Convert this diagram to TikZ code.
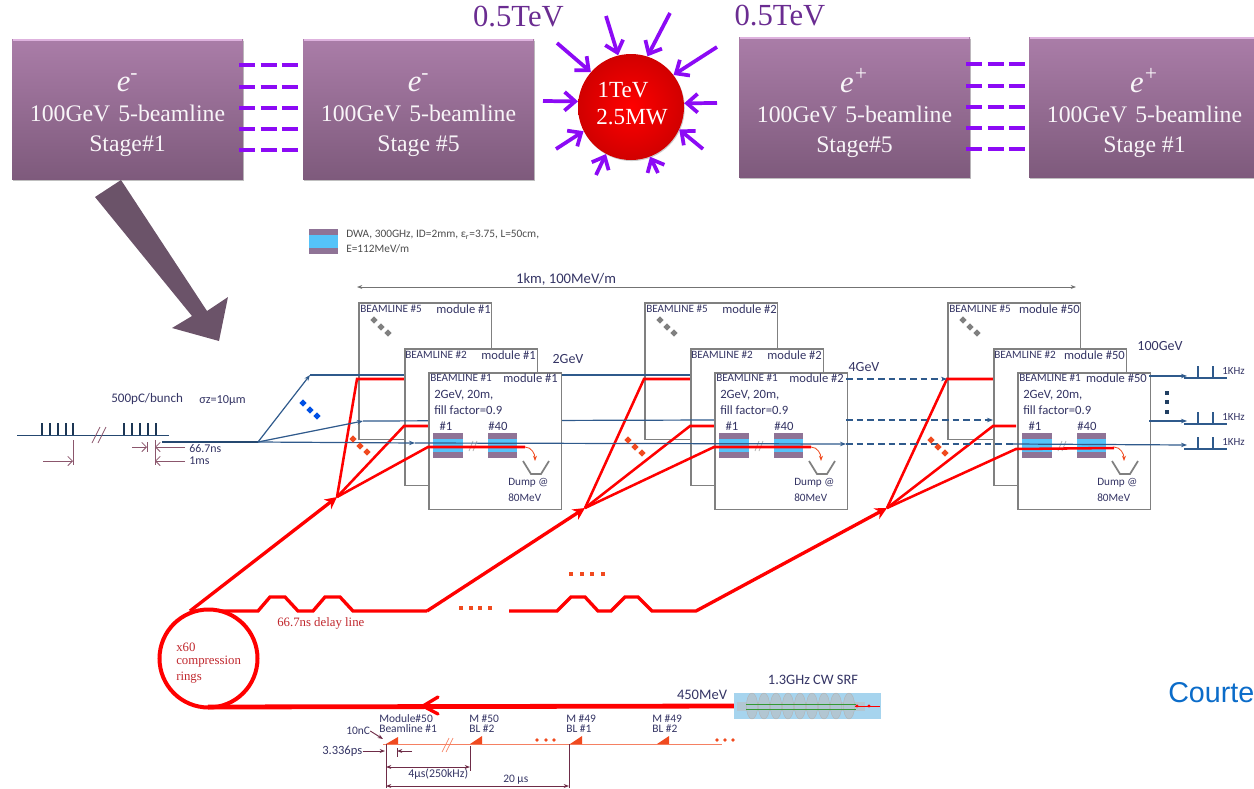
\documentclass[tikz,border=0pt]{standalone}
\usepackage{fontspec}
\setmainfont{Liberation Serif}
\newfontfamily\calfont{Carlito}
\newfontfamily\arialfont{Liberation Sans}
\usetikzlibrary{arrows.meta,calc,shapes.geometric,shadows}
\definecolor{plumtop}{RGB}{170,125,168}
\definecolor{plumlow}{RGB}{126,90,124}
\definecolor{plumrim}{RGB}{222,178,222}
\definecolor{violet}{RGB}{140,10,245}
\definecolor{tevtext}{RGB}{106,44,145}
\definecolor{bigarrow}{RGB}{107,83,105}
\definecolor{dwaplum}{RGB}{143,115,150}
\definecolor{dwacyan}{RGB}{85,195,249}
\definecolor{boxgray}{RGB}{128,128,128}
\definecolor{navy}{RGB}{47,90,140}
\definecolor{labelink}{RGB}{52,52,100}
\definecolor{markred}{RGB}{240,74,31}
\definecolor{ringtext}{RGB}{192,39,45}
\definecolor{timing}{RGB}{110,44,71}
\definecolor{srfblue}{RGB}{166,212,238}
\definecolor{cavity}{RGB}{178,198,210}
\definecolor{courtesy}{RGB}{11,108,201}

% top row
\newcommand{\stagebox}[5]{%
  \node[stagebx] (#1) at (#2,#3) {};
  \node[stagetxt] (#1t) at ($(#1.center)+(0,6)$) {{\fontsize{23}{24}\selectfont\itshape e\textsuperscript{#4}}\\100GeV\,\,5-beamline\\#5};
  \draw[plumrim,line width=1.5pt] ($(#1.north west)+(1,1)$) -- ($(#1.north east)+(-1,1)$);
}
\newcommand{\fivelinks}[3]{%
  \draw[linkdash] ($(#1.north east)+(-4,#3+0)$) -- ($(#2.north west)+(0,#3+0)$);
  \draw[linkdash] ($(#1.north east)+(-4,#3+22)$) -- ($(#2.north west)+(0,#3+22)$);
  \draw[linkdash] ($(#1.north east)+(-4,#3+43)$) -- ($(#2.north west)+(0,#3+43)$);
  \draw[linkdash] ($(#1.north east)+(-4,#3+64)$) -- ($(#2.north west)+(0,#3+64)$);
  \draw[linkdash] ($(#1.north east)+(-4,#3+85)$) -- ($(#2.north west)+(0,#3+85)$);
}
% module stack, one layer at a time
\newcommand{\threemarks}[4]{%
  \node[markdot,fill=#4] (#1a) at (#2,#3) {};
  \node[markdot,fill=#4] (#1b) at (#2+7,#3+7) {};
  \node[markdot,fill=#4] (#1c) at (#2+14,#3+13) {};
}
\newcommand{\backmod}[3]{%
  \node[modbox] (#1) at (358+#2,302) {};
  \node[beamlbl,anchor=west] (#1l) at (360+#2,309) {BEAMLINE \#5};
  \node[modlbl,anchor=east] (#1m) at (491+#2,309) {module \##3};
  \threemarks{#1k}{374+#2}{320}{gray}
}
\newcommand{\midmod}[3]{%
  \node[modbox] (#1) at (404+#2,348) {};
  \node[beamlbl,anchor=west] (#1l) at (405+#2,355) {BEAMLINE \#2};
  \node[modlbl,anchor=east] (#1m) at (536+#2,355) {module \##3};
}
\newcommand{\dwablock}[3]{%
  \node[dwa] (#1) at (#2,#3) {};
  \node[dwacore] (#1c) at (#1.center) {};
}
\newcommand{\frontmod}[3]{%
  \node[modbox] (#1) at (428+#2,372) {};
  \node[beamlbl,anchor=west] (#1l) at (430+#2,378) {BEAMLINE \#1};
  \node[modlbl,anchor=east] (#1m) at (558+#2,378) {module \##3};
  \node[inlbl,anchor=west] (#1f) at (434+#2,395) {2GeV, 20m,};
  \node[inlbl,anchor=west] (#1g) at (434+#2,410) {fill factor=0.9};
  \node[inlbl] (#1h) at (446+#2,426) {\#1};
  \node[inlbl] (#1i) at (498+#2,426) {\#40};
  \dwablock{#1p}{448+#2}{445.5}
  \dwablock{#1q}{502.5+#2}{445.5}
  \draw[gray!60,line width=.6pt] (469+#2,451) -- (473+#2,441) (473+#2,451) -- (477+#2,441);
}
\newcommand{\dumpmod}[2]{%
  \coordinate (#1s) at (525+#2,447);
  \coordinate (#1t) at (535+#2,461);
  \draw[boxgray,line width=1.3pt] (523+#2,461) -- (531+#2,474) -- (541+#2,474) -- (549+#2,461);
  \draw[markred,line width=.6pt,-{Stealth[length=4pt]}] (#1s) to[out=0,in=90] (#1t);
  \node[inlbl,font=\calfont\fontsize{8.4}{9}\selectfont,anchor=west] (#1u) at (508+#2,483) {Dump @};
  \node[inlbl,font=\calfont\fontsize{8.4}{9}\selectfont,anchor=west] (#1v) at (508+#2,498) {80MeV};
}
\newcommand{\pulse}[3]{%
  \coordinate (#1a) at (1184,#2);
  \coordinate (#1b) at (1227,#2);
  \draw[navy,line width=.8pt] (#1a) -- (#1b) (1198,#2) -- (1198,#2-12) (1213,#2) -- (1213,#2-12);
  \node[inlbl,font=\calfont\fontsize{8.2}{9}\selectfont,anchor=west] (#1c) at (1222,#3) {1KHz};
}
\newcommand{\ramp}[3]{%
  \fill[markred] (#2,744) -- (#2+12,#3) -- (#2+12,744) -- cycle;
}

\begin{document}
\begin{tikzpicture}[x=0.75pt,y=-0.75pt,
  stagebx/.style={top color=plumtop,bottom color=plumlow,minimum width=173.25pt,minimum height=105pt,
    inner sep=0pt,drop shadow={shadow xshift=1pt,shadow yshift=-1.5pt,opacity=.5}},
  stagetxt/.style={inner sep=0pt,align=center,text=white!92!plumtop,font=\fontsize{17.8}{22.5}\selectfont},
  linkdash/.style={violet,line width=2.7pt,dash pattern=on 12pt off 4pt},
  hitarrow/.style={violet,line width=2.8pt,-{Straight Barb[length=8pt,width=14pt,line width=2.8pt]}},
  tevlbl/.style={text=tevtext,font=\fontsize{23}{24}\selectfont,inner sep=0pt},
  corelbl/.style={text=white,font=\fontsize{17.3}{20}\selectfont,inner sep=0pt},
  modbox/.style={draw=boxgray,fill=white,line width=1.3pt,minimum width=99.5pt,minimum height=102.5pt,
    inner sep=0pt,anchor=north west},
  beamlbl/.style={text=labelink,font=\calfont\fontsize{8.4}{9}\selectfont,inner sep=0pt},
  modlbl/.style={text=labelink,font=\calfont\fontsize{9.4}{10}\selectfont,inner sep=0pt},
  inlbl/.style={text=labelink,font=\calfont\fontsize{9.5}{10}\selectfont,inner sep=0pt},
  energy/.style={text=labelink,font=\calfont\fontsize{10.5}{11}\selectfont,inner sep=0pt},
  timelbl/.style={text=labelink,font=\calfont\fontsize{8.6}{9}\selectfont,inner sep=0pt},
  redlbl/.style={text=ringtext,font=\fontsize{9.6}{10}\selectfont,inner sep=0pt,anchor=west},
  dwa/.style={fill=dwaplum,minimum width=22pt,minimum height=18.8pt,inner sep=0pt},
  dwacore/.style={fill=dwacyan,minimum width=22pt,minimum height=9.5pt,inner sep=0pt},
  markdot/.style={diamond,minimum size=5.5pt,inner sep=0pt},
  squaredot/.style={fill=#1,minimum size=3.4pt,inner sep=0pt},
  blueline/.style={navy,line width=.9pt},
  bluearrow/.style={navy,line width=.9pt,-{Stealth[length=4.5pt]}},
  bluedash/.style={navy,line width=.9pt,dash pattern=on 5pt off 3pt},
  redbeam/.style={red,line width=1.9pt,line join=miter},
  redfeed/.style={red,line width=2.5pt,line join=miter},
  timeline/.style={timing,line width=.7pt},
  timearrow/.style={timing,line width=.7pt,-{Stealth[length=4pt]}},
  inputarrow/.style={timing!80,line width=.6pt,-{Straight Barb[length=3.5pt]}}]
\useasboundingbox (0,0) rectangle (1254,789);

% stages and collision point
\stagebox{st1}{127.5}{109}{-}{Stage\#1}
\stagebox{st2}{418.5}{109}{-}{Stage \#5}
\stagebox{st3}{854.5}{107}{+}{Stage\#5}
\stagebox{st4}{1144.5}{107}{+}{Stage \#1}
\fivelinks{st1}{st2}{26}
\fivelinks{st3}{st4}{27}
\node[tevlbl] (tevl) at (518.5,17) {0.5TeV};
\node[tevlbl] (tevr) at (780,16) {0.5TeV};
\node[circle,minimum size=79.5pt,inner sep=0pt,inner color=red,outer color=red!82!black,
  drop shadow={shadow xshift=.6pt,shadow yshift=-.8pt,opacity=.4}] (core) at (631,107) {};
\node[corelbl] (coretop) at (623,90) {1TeV};
\node[corelbl] (corelow) at (632,117) {2.5MW};
\draw[hitarrow] (557,43) coordinate (h1) -- (core.139);
\draw[hitarrow] (606,16) coordinate (h2) -- (core.104);
\draw[hitarrow] (670,13) coordinate (h3) -- (core.72);
\draw[hitarrow] (717,47) coordinate (h4) -- (core.37);
\draw[hitarrow] (717,103) coordinate (h5) -- (core.4);
\draw[hitarrow] (703,149) coordinate (h6) -- (core.-25);
\draw[hitarrow] (658,173) coordinate (h7) -- (core.-69);
\draw[hitarrow] (596,175) coordinate (h8) -- (core.242);
\draw[hitarrow] (556,149) coordinate (h9) -- (core.207);
\draw[hitarrow] (543,101) coordinate (h10) -- (core.174);
\fill[bigarrow] (121,180) -- (207,311) -- (228,297) -- (219,341) -- (172,328) -- (192,316) -- (95,197) -- cycle;

% legend and overall length
\dwablock{legend}{323.5}{241.5}
\node[inlbl,font=\calfont\fontsize{8.5}{9}\selectfont,text=black!70,anchor=west] (legendtop) at (346,235) {DWA, 300GHz, ID=2mm, ε\textsubscript{r}=3.75, L=50cm,};
\node[inlbl,font=\calfont\fontsize{8.5}{9}\selectfont,text=black!70,anchor=west] (legendlow) at (346,249) {E=112MeV/m};
\coordinate (lenl) at (357,287);
\coordinate (lenr) at (1076,287);
\draw[black!55,line width=.6pt,{Stealth[length=4pt]}-{Stealth[length=4pt]}] (lenl) -- (lenr);
\node[energy,font=\calfont\fontsize{11}{12}\selectfont] (lenlbl) at (566,279) {1km, 100MeV/m};

% incoming bunch train
\coordinate (trainl) at (17,435);
\coordinate (trainr) at (169,435);
\draw[navy!80!black,line width=.6pt] (trainl) -- (trainr);
\draw[navy!60!black,line width=1pt] (42,423) -- (42,435) (50,423) -- (50,435) (58,423) -- (58,435) (66,423) -- (66,435) (73,423) -- (73,435)
  (124,423) -- (124,435) (132,423) -- (132,435) (140,423) -- (140,435) (148,423) -- (148,435) (156,423) -- (156,435);
\draw[timing!80,line width=.6pt] (92,443) -- (100,427) (98,443) -- (106,427);
\draw[timing!80,line width=.6pt] (73,440) -- (73,465) (147,442) -- (147,452) (155,440) -- (155,465);
\draw[inputarrow] (43,461) coordinate (tr1) -- (73,461);
\draw[inputarrow] (132,447) coordinate (tr2) -- (147,447);
\draw[inputarrow] (185,447) coordinate (tr3) -- (155,447);
\draw[inputarrow] (185,461) coordinate (tr4) -- (155,461);
\node[timelbl,anchor=west,font=\calfont\fontsize{8.9}{9}\selectfont] (t667) at (189,449) {66.7ns};
\node[timelbl,anchor=west,font=\calfont\fontsize{8.9}{9}\selectfont] (t1ms) at (189,461) {1ms};
\node[timelbl,anchor=west,font=\calfont\fontsize{9.8}{10}\selectfont] (bunch) at (111,399) {500pC/bunch};
\node[timelbl,anchor=west,font=\calfont\fontsize{9.2}{10}\selectfont] (sigz) at (199,401) {σz=10µm};
\coordinate (inj) at (162,442);
\coordinate (fan) at (258,442);
\draw[navy!80!black,line width=1.6pt] (inj) -- (fan);
\threemarks{bm}{303}{403}{blue!65!cyan!90!black}

% back boxes
\backmod{ba}{0}{1}
\backmod{bb}{286}{2}
\backmod{bc}{589}{50}

% beamline 5
\coordinate (topa) at (310,375);
\coordinate (topb) at (690,375);
\draw[bluearrow] (fan) -- (topa);
\draw[blueline] (topa) -- (topb);
\coordinate (apexa) at (337,497);
\coordinate (apexb) at (585,508);
\coordinate (apexc) at (887,508);
\draw[redbeam] (apexa) -- (357,379) -- (404,379);
\draw[redbeam] (apexb) -- (644,379) -- (690,379);
\draw[redbeam] (apexc) -- (947,379) -- (993,379);

% middle boxes
\midmod{ma}{0}{1}
\midmod{mb}{286}{2}
\midmod{mc}{589}{50}

% beamline 2
\coordinate (mida) at (363,421);
\coordinate (midb) at (714,420);
\draw[bluearrow] (fan) -- (mida);
\draw[blueline] (mida) -- (midb);
\draw[redbeam] (apexa) -- (404,426) -- (428,426);
\draw[redbeam] (apexb) -- (690,426) -- (714,426);
\draw[redbeam] (apexc) -- (993,426) -- (1016,426);

% front boxes
\frontmod{fa}{0}{1}
\frontmod{fb}{286}{2}
\frontmod{fc}{589}{50}

% beamline 1
\coordinate (lowa) at (415,443);
\coordinate (lowb) at (846,444);
\coordinate (lowc) at (1013,444);
\coordinate (lowd) at (1187,445);
\draw[bluearrow] (fan) -- (lowa);
\draw[bluearrow] (lowa) -- (lowb);
\draw[bluedash] (lowb) -- (lowc);
\draw[bluearrow] (lowc) -- (lowd);
\draw[bluedash,-{Stealth[length=4.5pt]}] (846,379) coordinate (dasha) -- (947,379);
\draw[bluedash,-{Stealth[length=4.5pt]}] (846,420) coordinate (dashb) -- (993,420);
\draw[bluearrow] (1149,376) coordinate (outa) -- (1187,376);
\draw[bluearrow] (1149,421) coordinate (outb) -- (1187,421);
\draw[redbeam] (apexa) -- (428,447) -- (525,447);
\draw[redbeam] (apexb) -- (714,447) -- (811,447);
\draw[redbeam] (apexc) -- (1016,449) -- (1114,448);
\dumpmod{da}{0}
\dumpmod{db}{286}
\dumpmod{dc}{589}
\threemarks{oa}{353}{439}{markred}
\threemarks{ob}{628}{440}{markred}
\threemarks{oc}{931}{440}{markred}

\node[energy] (ga) at (568,359) {2GeV};
\node[energy] (gb) at (864,367) {4GeV};
\node[energy] (gc) at (1160,346) {100GeV};
\pulse{pa}{378}{371}
\pulse{pb}{424}{417}
\pulse{pc}{449}{442}
\node[squaredot=navy!70!black] (sa) at (1167,393) {};
\node[squaredot=navy!70!black] (sb) at (1167,402) {};
\node[squaredot=navy!70!black] (sc) at (1167,412) {};

% ring, delay line and linac
\node[circle,draw=red,line width=3pt,minimum size=73.5pt,inner sep=0pt] (ring) at (208.5,658.5) {};
\coordinate (ringtop) at (190,611);
\draw[redfeed,-{Stealth[length=9pt,width=9pt]}] (ringtop) -- (apexa);
\coordinate (delayb) at (220,611);
\coordinate (delayc) at (427,611);
\coordinate (delayd) at (509,611);
\draw[redfeed] (delayb) -- (258,611) -- (270,597) -- (285,597) -- (298,611) -- (313,611) -- (325,597) -- (340,597) -- (353,611) -- (delayc);
\draw[redfeed,-{Stealth[length=9pt,width=9pt]}] (delayc) -- (apexb);
\draw[redfeed,-{Stealth[length=9pt,width=9pt]}] (delayd) -- (557,611) -- (571,597) -- (585,597) -- (598,611) -- (611,611) -- (625,597) -- (638,597) -- (652,611) -- (696,611) -- (apexc);
\node[squaredot=markred] (da1) at (461,608) {};
\node[squaredot=markred] (da2) at (471,608) {};
\node[squaredot=markred] (da3) at (480,608) {};
\node[squaredot=markred] (da4) at (490,608) {};
\node[squaredot=markred] (db1) at (571,574) {};
\node[squaredot=markred] (db2) at (582,574) {};
\node[squaredot=markred] (db3) at (592,574) {};
\node[squaredot=markred] (db4) at (603,574) {};
\node[redlbl] (delaylbl) at (277,623) {66.7ns delay line};
\node[redlbl] (ringa) at (176,647) {x60};
\node[redlbl] (ringb) at (176,662) {compression};
\node[redlbl] (ringc) at (176,678) {rings};
\coordinate (ringlow) at (208,707);
\coordinate (linac) at (738,706);
\draw[red,line width=3.6pt] (linac) -- (ringlow);
\draw[red,line width=2.5pt,line cap=round] (438,697) -- (423,706) -- (438,714);
\node[energy,font=\calfont\fontsize{10.9}{11}\selectfont] (mev) at (702,695) {450MeV};
\node[energy,font=\calfont\fontsize{10.8}{11}\selectfont] (srf) at (813,680) {1.3GHz CW SRF};
\node[fill=srfblue,minimum width=110.25pt,minimum height=19.5pt,inner sep=0pt] (srfbox) at (807.5,706) {};
\fill[cavity] (737,702) rectangle (865,711);
\draw[draw=gray!60,fill=cavity,line width=.3pt]
  (752,706) ellipse [x radius=5.6,y radius=13] (764,706) ellipse [x radius=5.6,y radius=13]
  (776,706) ellipse [x radius=5.6,y radius=13] (788,706) ellipse [x radius=5.6,y radius=13]
  (800,706) ellipse [x radius=5.6,y radius=13] (812,706) ellipse [x radius=5.6,y radius=13]
  (824,706) ellipse [x radius=5.6,y radius=13] (836,706) ellipse [x radius=5.6,y radius=13]
  (849,706) ellipse [x radius=5.6,y radius=13];
\draw[green!50!black!80,line width=.6pt] (746,704) -- (856,704) (746,709) -- (856,709);
\coordinate (srfa) at (855,706);
\coordinate (srfb) at (880,706);
\draw[red,line width=.5pt] (srfa) -- (srfb);
\fill[red] (857,706) circle (1.6) (869,706) circle (1.6);

% bunch spacing along the drive line
\coordinate (drva) at (383,744);
\coordinate (drvb) at (722,744);
\draw[markred!70,line width=.7pt] (drva) -- (drvb);
\draw[markred!70,line width=.5pt] (442,752) -- (449,738) (446,752) -- (453,738);
\ramp{ra}{386}{737}
\ramp{rb}{470}{736}
\ramp{rc}{570}{736}
\ramp{rd}{657}{736}
\fill[markred] (537,740) circle (1.8) (546,740) circle (1.8) (554,740) circle (1.8)
  (717,740) circle (1.8) (725,740) circle (1.8) (733,740) circle (1.8);
\node[timelbl,anchor=west] (ta) at (379,719) {Module\#50};
\node[timelbl,anchor=west] (tb) at (379,729) {Beamline \#1};
\node[timelbl,anchor=west] (tc) at (469,719) {M \#50};
\node[timelbl,anchor=west] (td) at (469,729) {BL \#2};
\node[timelbl,anchor=west] (te) at (566,719) {M \#49};
\node[timelbl,anchor=west] (tf) at (566,729) {BL \#1};
\node[timelbl,anchor=west] (tg) at (652,719) {M \#49};
\node[timelbl,anchor=west] (th) at (652,729) {BL \#2};
\node[timelbl,anchor=west] (tnc) at (346,731) {10nC};
\node[timelbl,anchor=west,font=\calfont\fontsize{9.4}{10}\selectfont] (tps) at (322,751) {3.336ps};
\node[timelbl,anchor=west,font=\calfont\fontsize{8.9}{9}\selectfont] (tus) at (408,774) {4µs(250kHz)};
\node[timelbl,anchor=west] (tuu) at (503,780) {20 µs};
\draw[timearrow] (tnc.east) -- (383,739);
\draw[timearrow] (tps.east) -- (385,751);
\draw[timearrow] (412,751) coordinate (tpb) -- (397,751);
\draw[timeline] (386,744) -- (386,788) (397,748) -- (397,757) (470,746) -- (470,771) (569,744) -- (569,788);
\coordinate (usa) at (386,767);
\coordinate (usb) at (470,767);
\coordinate (uua) at (386,786);
\coordinate (uub) at (569,786);
\draw[timeline,{Stealth[length=4pt]}-{Stealth[length=4pt]}] (usa) -- (usb);
\draw[timeline,{Stealth[length=4pt]}-{Stealth[length=4pt]}] (uua) -- (uub);

\node[text=courtesy,font=\arialfont\fontsize{21.5}{24}\selectfont,inner sep=0pt,anchor=west] (court) at (1168,693) {Courte};
\end{tikzpicture}
\end{document}
